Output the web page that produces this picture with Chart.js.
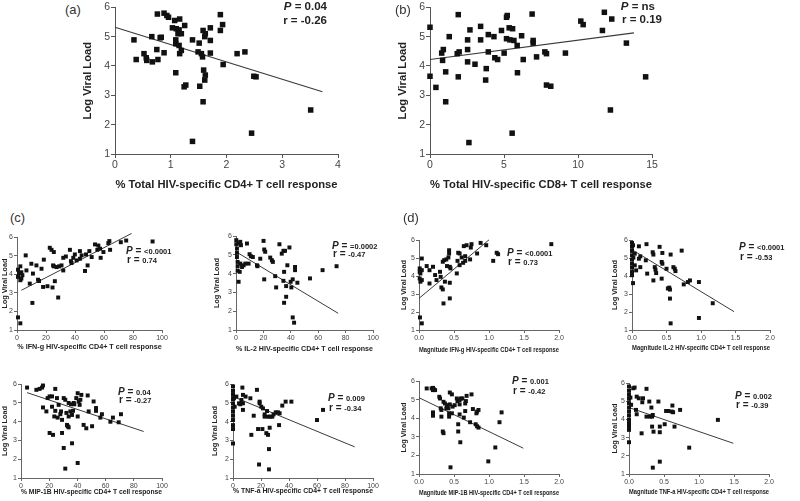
<!DOCTYPE html>
<html><head><meta charset="utf-8">
<script src="https://cdn.jsdelivr.net/npm/chart.js@4.4.1/dist/chart.umd.min.js"></script>
<style>
body{margin:0;width:800px;height:501px;background:#fff;position:relative;overflow:hidden;font-family:"Liberation Sans",Arial,sans-serif;}
canvas{position:absolute;}
.t{position:absolute;white-space:nowrap;color:#222;font-weight:bold;line-height:1;}
.lab{position:absolute;white-space:nowrap;color:#333;line-height:1;font-size:13px;}
</style></head><body>
<script>
// ---------------- DATA ----------------
const yTicks = [1, 2, 3, 4, 5, 6];
const yLabel = "Log Viral Load";

// (a) % total HIV-specific CD4+ response vs log viral load
const aPoints = [[0.34,4.89],[0.38,4.22],[0.52,4.42],[0.56,4.28],[0.57,4.19],[0.66,5.00],[0.67,4.14],[0.75,4.56],[0.76,5.77],[0.77,4.22],[0.81,4.96],[0.83,4.98],[0.88,4.45],[0.88,5.80],[0.93,5.72],[0.96,5.66],[1.03,5.30],[1.07,5.55],[1.09,4.89],[1.09,4.76],[1.09,3.77],[1.10,5.27],[1.13,5.10],[1.15,4.70],[1.16,5.60],[1.15,5.23],[1.16,4.42],[1.19,5.10],[1.19,4.53],[1.25,5.38],[1.24,3.29],[1.27,3.35],[1.39,1.43],[1.39,4.89],[1.49,4.48],[1.51,4.78],[1.52,3.31],[1.55,4.42],[1.57,4.31],[1.58,5.21],[1.58,2.78],[1.59,3.86],[1.61,3.52],[1.62,5.10],[1.62,3.69],[1.61,5.00],[1.71,4.44],[1.71,4.87],[1.71,5.30],[1.89,5.75],[1.89,5.21],[1.93,5.41],[1.94,4.05],[2.19,4.42],[2.33,4.48],[2.45,1.71],[2.49,3.65],[2.53,3.63],[3.51,2.50]];
const aFit = [[0,5.32],[3.72,3.12]];

// (b) % total HIV-specific CD8+ response
const bPoints = [[0,5.32],[0,3.65],[0.4,3.27],[0.79,4.44],[0.85,4.19],[0.9,4.56],[1.06,2.78],[1.06,3.80],[1.3,5.00],[1.84,4.42],[1.91,5.75],[1.91,3.63],[1.97,4.48],[2.54,4.89],[2.54,4.56],[2.54,4.14],[2.63,1.39],[2.7,5.23],[3.04,4.06],[3.42,5.35],[3.42,4.89],[3.8,3.91],[3.76,3.52],[3.94,5.07],[3.94,4.48],[4.32,5.00],[4.38,4.28],[4.57,4.22],[4.83,5.21],[5.01,4.44],[5.17,5.66],[5.22,5.72],[5.17,4.93],[5.35,5.30],[5.4,4.89],[5.55,1.71],[5.58,5.27],[5.67,4.87],[5.89,4.70],[5.91,3.77],[6.19,5.03],[6.3,4.22],[6.9,5.77],[6.97,4.87],[6.97,4.78],[7.2,4.31],[7.76,4.48],[7.87,4.42],[7.87,3.35],[8.16,3.31],[9.15,4.44],[10.19,5.53],[10.35,5.41],[11.65,5.21],[11.78,5.83],[12.19,2.50],[12.28,5.60],[13.27,4.78],[14.57,3.63]];
const bFit = [[0,4.22],[13.78,5.13]];

// (c) % IFN-g
const c1Points = [[0.7,1.68],[2.3,1.36],[0.7,4.25],[1.4,4.07],[0.7,3.86],[2.3,4.43],[2.3,3.68],[3,3.77],[3,4.11],[3.7,3.95],[6,5.02],[6.5,4.21],[8.8,3.5],[9.9,4.57],[10.6,2.46],[11,4.04],[13.4,4.48],[14.5,3.71],[15.2,3.64],[16.9,4.3],[18,3.32],[18.5,4.79],[21,3.36],[22.6,5.43],[23.8,5.32],[24.5,3.29],[25.4,5.2],[24.9,4.48],[25.4,4.43],[26.1,3.63],[27.3,4.39],[28.4,2.75],[29,4.43],[30.7,4.48],[31.9,4.21],[31.9,4.89],[33.7,4.96],[36.5,5.32],[37.2,4.71],[37.6,4.61],[38.8,4.89],[39.9,5.07],[41.1,4.75],[43.4,4.84],[43.4,5.25],[44.6,5.02],[46.9,4.18],[47.6,5.07],[48.7,4.48],[49.9,5.25],[51.5,4.93],[53.8,5.61],[55.4,5.32],[56.1,5.55],[57.3,5.38],[57.7,4.89],[59.6,5.2],[63,5.68],[63.7,5.79],[64.2,5.32],[71.6,5.73],[75.3,5.82],[93.5,5.77]];
const c1Fit = [[3,3.14],[79,6.2]];

// (c) % IL-2
const c2Points = [[0.2,5.79],[0.2,5.57],[0.7,5.34],[0.7,5.11],[0.7,4.89],[1.2,4.63],[1.2,4.4],[1.2,4.16],[1.7,5.61],[1.9,3.57],[2.7,4.1],[3.1,5.7],[3.6,5.52],[3.1,4.54],[4.4,4.36],[5.6,4.45],[6.8,4.54],[8,5.61],[9.2,4.54],[9.9,5.04],[10.9,4.93],[12.3,4.89],[15.3,4.45],[15.7,4.4],[17.7,4.8],[20.1,5.75],[20.6,5.29],[21.3,5.17],[20.6,3.7],[25,4.86],[26.2,4.72],[26.9,4.63],[28.6,3.87],[29.3,3.27],[31.7,5.57],[33.4,5.07],[34.6,5.22],[35.8,5.22],[35.1,4.1],[34.6,3.62],[35.1,2.45],[36.6,2.77],[36.6,3.34],[37.5,4.45],[39,5.4],[39.9,3.57],[40.4,3.27],[41.4,1.67],[42.4,1.39],[41.4,3.7],[43.1,4.19],[43.1,4.36],[44.8,3.52],[54,3.75],[63.2,4.19],[73.4,4.4]];
const c2Fit = [[0,5.17],[74.6,1.89]];

// (c) % MIP-1B
const c3Points = [[4.3,5.82],[10.9,5.7],[13.2,5.75],[14.9,5.82],[15.6,5.93],[15.6,4.76],[18,4.55],[18.9,5.26],[20.3,5.35],[20.3,3.4],[22,5.35],[22.7,3.3],[22,4.8],[23.6,4.28],[24.3,5.75],[24.3,4.58],[25.5,5.26],[26,4.22],[26.7,4.9],[27.9,4.4],[28.4,4.55],[29.1,4.1],[29.1,3.4],[30.3,5.26],[30.3,2.6],[31.4,5.17],[31.4,1.5],[32.2,4.47],[32.6,3.83],[33.1,3.76],[33.8,4.28],[33.8,3.7],[33.8,5.0],[35,4.55],[35.5,4.93],[36.2,4.36],[36.2,2.85],[36.9,4.58],[37.4,5.0],[37.8,4.93],[39.2,5.26],[40.2,5.52],[40.2,4.28],[40.2,1.8],[40.9,5.08],[41.6,4.9],[42.1,5.17],[42.8,5.43],[44.4,3.83],[46.3,3.65],[47.3,5.4],[48,4.55],[50.4,3.76],[51.5,5.08],[53.2,4.73],[53.2,4.58],[56.3,4.22],[57.4,4.4],[63.4,4.0],[65.2,4.22],[69.3,3.97],[70.9,4.4]];
const c3Fit = [[4.3,5.55],[87,3.48]];

// (c) % TNF-a
const c4Points = [[0,5.88],[0,5.64],[0,5.43],[0,5.21],[0,4.98],[0,4.75],[0,4.54],[0,4.32],[0,4.09],[0,3.82],[0,3.61],[0,2.84],[0.7,5.25],[1.2,4.8],[2.4,5.34],[4.3,4.98],[5.2,4.93],[6,5.16],[6.7,5.82],[7.1,5.43],[7.1,4.63],[7.1,4.98],[9,5.34],[12.4,5.25],[13.1,3.3],[14.8,4.32],[17.1,5.7],[17.9,3.61],[18.6,1.72],[19,5.07],[19,4.98],[20.2,4.8],[21,3.61],[21.4,4.71],[22.6,4.39],[22.6,4.27],[23.8,3.39],[24.3,4.57],[25,3.3],[25,4.27],[25.7,1.46],[25.7,2.54],[26.2,3.68],[26.7,4.27],[28.1,4.27],[29,4.39],[30.5,4.5],[32.1,4.5],[32.9,3.82],[33.3,4.45],[35.2,4.86],[37.6,5.07],[41.7,5.07],[60,4.09],[64.3,4.63]];
const c4Fit = [[0,5.34],[86.9,2.66]];

// (d) magnitude IFN-g
const d1Points = [[0.014,1.7],[0.04,1.37],[0.04,4.98],[0.01,4.43],[0.01,4.24],[0.02,4.15],[0.01,3.87],[0.04,3.78],[0.02,3.69],[0.04,4.33],[0.11,4.56],[0.15,4.33],[0.15,3.59],[0.2,4.52],[0.23,4.06],[0.25,3.78],[0.3,4.24],[0.31,3.96],[0.32,3.37],[0.34,3.26],[0.35,2.48],[0.34,4.8],[0.36,4.89],[0.37,3.69],[0.39,4.93],[0.4,4.56],[0.42,5.04],[0.43,5.44],[0.43,5.26],[0.44,2.76],[0.44,3.63],[0.44,4.52],[0.45,4.43],[0.54,4.15],[0.55,4.85],[0.56,5.3],[0.58,4.61],[0.58,5.26],[0.61,5.04],[0.63,4.74],[0.64,5.67],[0.66,5.11],[0.66,4.85],[0.68,5.72],[0.73,4.93],[0.74,5.59],[0.75,5.78],[0.83,5.26],[0.88,5.85],[0.96,5.72],[1.06,4.85],[1.11,5.3],[1.13,5.22],[1.89,5.78]];
const d1Fit = [[0,2.76],[1.0,6.02]];

// (d) magnitude IL-2
const d2Points = [[0,5.85],[0,5.63],[0,5.4],[0,5.16],[0,4.92],[0,4.69],[0,4.47],[0,4.23],[0,4.05],[0.015,3.61],[0.015,5.72],[0.02,5.03],[0.04,5.25],[0.04,4.6],[0.06,4.32],[0.1,5.66],[0.1,4.97],[0.12,5.1],[0.12,4.5],[0.21,5.78],[0.2,4.88],[0.22,4.14],[0.3,5.33],[0.31,5.2],[0.31,3.76],[0.33,4.5],[0.34,4.36],[0.35,4.17],[0.4,5.63],[0.43,4.79],[0.44,4.69],[0.44,5.29],[0.43,3.86],[0.5,4.41],[0.52,3.31],[0.54,3.36],[0.55,2.75],[0.55,3.25],[0.56,5.2],[0.56,1.37],[0.6,4.5],[0.62,4.41],[0.63,4.28],[0.72,5.42],[0.75,3.54],[0.81,3.67],[0.84,3.76],[0.97,3.67],[0.97,1.67],[1.17,2.49]];
const d2Fit = [[0,5.47],[1.48,2.02]];

// (d) magnitude MIP-1B
const d3Points = [[0.11,5.61],[0.18,5.61],[0.2,5.52],[0.2,5.64],[0.21,5.57],[0.23,5.52],[0.2,4.32],[0.2,4.14],[0.29,5.16],[0.3,5.07],[0.31,4.54],[0.32,4.45],[0.32,4.09],[0.34,3.29],[0.35,3.2],[0.35,4.89],[0.37,4.8],[0.39,4.54],[0.4,4.71],[0.42,4.54],[0.43,4.27],[0.43,4.09],[0.44,4.75],[0.44,5.39],[0.45,1.36],[0.47,5.29],[0.47,4.27],[0.48,4.63],[0.51,4.71],[0.54,5.07],[0.55,4.93],[0.56,3.68],[0.56,3.29],[0.58,4.98],[0.58,4.21],[0.58,4.75],[0.59,2.71],[0.6,5.07],[0.62,5.07],[0.64,4.04],[0.66,4.39],[0.66,4.8],[0.67,4.93],[0.68,5.21],[0.73,3.79],[0.75,5.29],[0.77,4.5],[0.81,3.68],[0.82,4.27],[0.83,4.36],[0.83,3.57],[0.85,3.5],[0.85,4.45],[0.99,1.68],[1.09,2.43],[1.15,3.79],[1.18,4.32]];
const d3Fit = [[0,5.11],[1.49,2.39]];

// (d) magnitude TNF-a
const d4Points = [[0,5.82],[0,5.58],[0,5.36],[0,5.14],[0,4.9],[0,4.66],[0,4.44],[0,4.22],[0,3.98],[0,3.79],[0,3.61],[0,3.43],[0,2.75],[0.02,5.21],[0.03,4.81],[0.06,5.72],[0.08,5.76],[0.1,4.53],[0.11,4.29],[0.11,5.26],[0.14,5.17],[0.18,3.24],[0.19,4.95],[0.2,5.17],[0.25,5.69],[0.25,4.16],[0.29,4.99],[0.3,4.16],[0.32,4.66],[0.33,4.16],[0.33,3.61],[0.34,1.35],[0.34,4.25],[0.35,3.33],[0.42,4.99],[0.44,3.61],[0.44,3.3],[0.44,1.68],[0.51,3.74],[0.53,4.47],[0.56,4.47],[0.61,4.44],[0.62,4.77],[0.63,4.4],[0.65,3.61],[0.73,4.53],[0.86,2.45],[1.27,3.98]];
const d4Fit = [[0,4.66],[1.49,2.69]];

const xTitles = {
  a: "% Total HIV-specific CD4+ T cell response",
  b: "% Total HIV-specific CD8+ T cell response",
  c1: "% IFN-g HIV-specific CD4+ T cell response",
  c2: "% IL-2 HIV-specific CD4+ T cell response",
  c3: "% MIP-1B HIV-specific CD4+ T cell response",
  c4: "% TNF-a HIV-specific CD4+ T cell response",
  d1: "Magnitude IFN-g HIV-specific CD4+ T cell response",
  d2: "Magnitude IL-2 HIV-specific CD4+ T cell response",
  d3: "Magnitude MIP-1B HIV-specific CD4+ T cell response",
  d4: "Magnitude TNF-a HIV-specific CD4+ T cell response"
};
const pValues = {a:"0.04", b:"ns", c1:"<0.0001", c2:"=0.0002", c3:"0.04", c4:"0.009", d1:"<0.0001", d2:"<0.0001", d3:"0.001", d4:"0.002"};
const rValues = {a:"-0.26", b:"0.19", c1:"0.74", c2:"-0.47", c3:"-0.27", c4:"-0.34", d1:"0.73", d2:"-0.53", d3:"-0.42", d4:"-0.39"};

// ---------------- DRAWING ----------------
const FONT = "'Liberation Sans', Arial, sans-serif";
function makePanel(pts, fit, o) {
  const W = o.x1 - o.x0 + o.padL + o.padR;
  const H = o.yB - o.yT + o.padT + o.padB;
  const cv = document.createElement('canvas');
  cv.width = W; cv.height = H;
  cv.style.left = (o.x0 - o.padL) + 'px';
  cv.style.top = (o.yT - o.padT) + 'px';
  cv.style.width = W + 'px'; cv.style.height = H + 'px';
  document.body.appendChild(cv);
  const axisCol = o.axisCol || '#555';
  new Chart(cv, {
    type: 'scatter',
    data: {
      datasets: [
        {data: pts.map(p => ({x: p[0], y: p[1]})), pointStyle: 'rect', pointRadius: o.r, pointHoverRadius: o.r,
         backgroundColor: '#111', borderColor: '#111', borderWidth: 0, showLine: false, clip: false},
        {data: fit.map(p => ({x: p[0], y: p[1]})), showLine: true, pointRadius: 0, borderColor: '#3a3a3a',
         borderWidth: o.lw, fill: false, clip: false}
      ]
    },
    options: {
      responsive: false, animation: false, devicePixelRatio: 1,
      layout: {padding: {left: 0, right: o.padR, top: o.padT, bottom: 0}},
      plugins: {legend: {display: false}, tooltip: {enabled: false}},
      scales: {
        x: {
          type: 'linear', min: o.xmin, max: o.xmax,
          afterBuildTicks: s => { s.ticks = o.xTicks.map(v => ({value: v})); },
          ticks: {autoSkip: false, maxRotation: 0, color: '#444', padding: 1,
                  font: {family: FONT, size: o.tickSize}, callback: v => o.fmt(v)},
          grid: {drawOnChartArea: false, drawTicks: true, tickLength: o.tl, color: axisCol, lineWidth: 1},
          border: {display: true, color: axisCol, width: 1},
          title: {display: true, text: o.xTitle, color: '#222', font: {family: FONT, size: o.titleSize, weight: 'bold'},
                  padding: {top: 0, bottom: o.xtPad}},
          afterFit: s => { s.height = o.padB; }
        },
        y: {
          type: 'linear', min: 1, max: 6,
          afterBuildTicks: s => { s.ticks = yTicks.map(v => ({value: v})); },
          ticks: {autoSkip: false, color: '#444', padding: 1, font: {family: FONT, size: o.tickSize}},
          grid: {drawOnChartArea: false, drawTicks: true, tickLength: o.tl, color: axisCol, lineWidth: 1},
          border: {display: true, color: axisCol, width: 1},
          title: {display: true, text: yLabel, color: '#222', font: {family: FONT, size: o.ytSize || o.titleSize, weight: 'bold'},
                  padding: {top: 0, bottom: 0}},
          afterFit: s => { s.width = o.padL; }
        }
      }
    }
  });
}

function addText(html, left, top, size, cls, right) {
  const d = document.createElement('div');
  d.className = cls || 't';
  d.innerHTML = html;
  d.style.fontSize = size + 'px';
  d.style.top = top + 'px';
  if (right !== undefined) { d.style.right = (800 - right) + 'px'; d.style.textAlign = 'right'; }
  else d.style.left = left + 'px';
  document.body.appendChild(d);
}

const int = v => String(v);
const one = v => v.toFixed(1);

// big panels
const big = {tickSize: 10.5, titleSize: 11.2, r: 3.9, lw: 1.2, tl: 4, padT: 7, padR: 14, padB: 40, xtPad: 2};
makePanel(aPoints, aFit, Object.assign({}, big, {x0: 115, x1: 338, yT: 7, yB: 154, padL: 34,
  xmin: 0, xmax: 4, xTicks: [0,1,2,3,4], fmt: int, xTitle: xTitles.a}));
makePanel(bPoints, bFit, Object.assign({}, big, {x0: 430, x1: 652, yT: 7, yB: 154, padL: 34,
  xmin: 0, xmax: 15, xTicks: [0,5,10,15], fmt: int, xTitle: xTitles.b}));

// small panels
const sm = {tickSize: 7, titleSize: 7.2, ytSize: 7.2, r: 2.8, lw: 1, tl: 3, padT: 5, padR: 10, xtPad: 1, axisCol: '#666'};
const pct = [0,20,40,60,80,100], mag = [0,0.5,1,1.5,2];
makePanel(c1Points, c1Fit, Object.assign({}, sm, {x0: 17, x1: 162, yT: 237, yB: 330, padL: 16, padB: 22,
  xmin: 0, xmax: 100, xTicks: pct, fmt: int, xTitle: xTitles.c1}));
makePanel(c2Points, c2Fit, Object.assign({}, sm, {x0: 236, x1: 373, yT: 236, yB: 330, padL: 23, padB: 24,
  xmin: 0, xmax: 100, xTicks: pct, fmt: int, xTitle: xTitles.c2}));
makePanel(d1Points, d1Fit, Object.assign({}, sm, {x0: 419, x1: 559, yT: 240, yB: 330, padL: 19, padB: 25,
  xmin: 0, xmax: 2, xTicks: mag, fmt: one, xTitle: xTitles.d1}));
makePanel(d2Points, d2Fit, Object.assign({}, sm, {x0: 632, x1: 770, yT: 240, yB: 330, padL: 21, padB: 23,
  xmin: 0, xmax: 2, xTicks: mag, fmt: one, xTitle: xTitles.d2}));
makePanel(c3Points, c3Fit, Object.assign({}, sm, {x0: 21, x1: 162, yT: 384, yB: 478, padL: 20, padB: 19,
  xmin: 0, xmax: 100, xTicks: pct, fmt: int, xTitle: xTitles.c3}));
makePanel(c4Points, c4Fit, Object.assign({}, sm, {x0: 233, x1: 373, yT: 384, yB: 478, padL: 22, padB: 18,
  xmin: 0, xmax: 100, xTicks: pct, fmt: int, xTitle: xTitles.c4}));
makePanel(d3Points, d3Fit, Object.assign({}, sm, {x0: 419, x1: 559, yT: 381, yB: 474, padL: 19, padB: 24,
  xmin: 0, xmax: 2, xTicks: mag, fmt: one, xTitle: xTitles.d3}));
makePanel(d4Points, d4Fit, Object.assign({}, sm, {x0: 629, x1: 769, yT: 383, yB: 474, padL: 18, padB: 23,
  xmin: 0, xmax: 2, xTicks: mag, fmt: one, xTitle: xTitles.d4}));

// panel letters
addText('(a)', 65, 3, 13, 'lab');
addText('(b)', 395, 3, 13, 'lab');
addText('(c)', 10, 211, 13, 'lab');
addText('(d)', 403, 211, 13, 'lab');

// statistics, big panels (right aligned)
addText('<i>P</i> = ' + pValues.a, 0, 1, 11.5, 't', 327);
addText('r = ' + rValues.a, 0, 15, 11.5, 't', 327);
addText('<i>P</i> = ' + pValues.b, 0, 1, 11.5, 't', 655);
addText('r = ' + rValues.b, 0, 14, 11.5, 't', 662);

// statistics, small panels
function smallStat(key, left, yP, yR) {
  addText('<i>P</i> = <span style="font-size:7.5px">' + pValues[key] + '</span>', left, yP - 5, 10);
  addText('r = <span style="font-size:7.5px">' + rValues[key] + '</span>', left + 1, yR - 5, 10);
}
smallStat('c1', 126, 251, 260);
smallStat('c2', 332, 246, 254);
smallStat('d1', 507, 253, 262);
smallStat('d2', 739, 247, 257);
smallStat('c3', 118, 392, 400);
smallStat('c4', 328, 398, 408);
smallStat('d3', 512, 381, 391);
smallStat('d4', 735, 396, 405);
</script>
</body></html>
